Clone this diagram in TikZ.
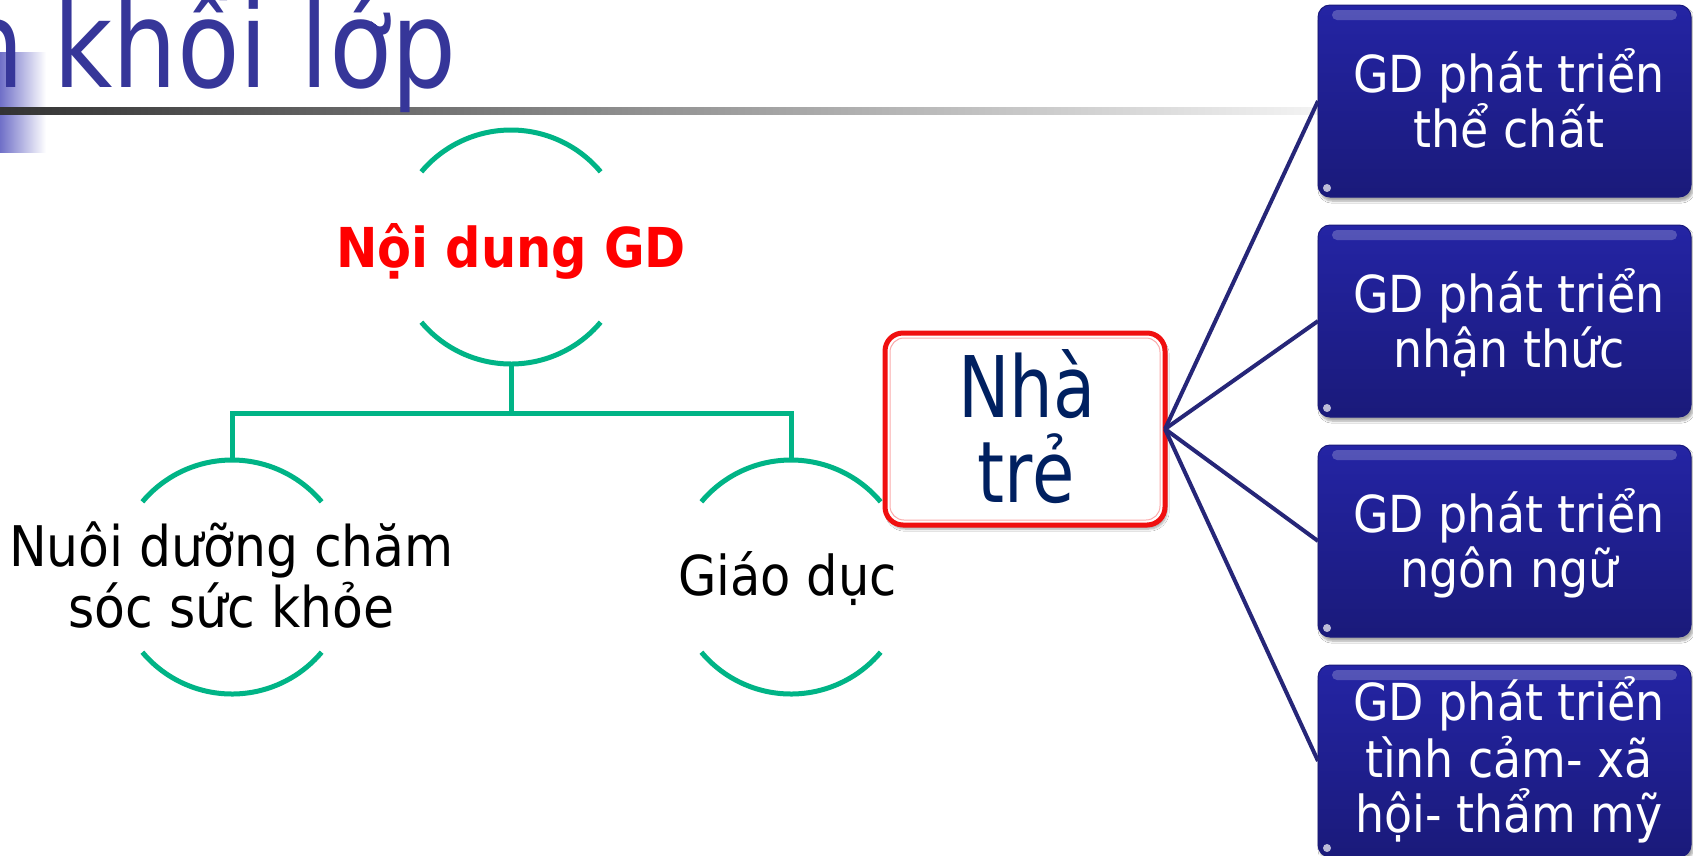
\documentclass[tikz,border=0pt]{standalone}
\usepackage{fontspec}
\usepackage{graphicx}
\setmainfont{DejaVu Sans Condensed}
\usetikzlibrary{shadows.blur}
\definecolor{ggreen}{RGB}{0,180,134}
\definecolor{navyline}{RGB}{38,38,120}
\definecolor{titleblue}{RGB}{54,54,153}
\definecolor{decoblue}{RGB}{112,112,200}
\definecolor{navytxt}{RGB}{0,32,96}
\definecolor{boxred}{RGB}{240,16,16}
\definecolor{btop}{RGB}{36,36,164}
\definecolor{bbot}{RGB}{26,26,122}
\begin{document}
\begin{tikzpicture}[x=1pt,y=1pt,
  ring/.style={circle, minimum size=234pt, inner sep=0pt, outer sep=0pt},
  arcline/.style={draw=ggreen, line width=5pt},
  tree/.style={draw=ggreen, line width=5pt},
  ln/.style={anchor=base, inner sep=0pt},
  ctext/.style={ln, font=\fontsize{56}{56}\selectfont},
  btext/.style={ln, text=white, font=\fontsize{51}{51}\selectfont},
  ntext/.style={ln, text=navytxt, font=\fontsize{85}{85}\selectfont},
  conn/.style={draw=navyline, line width=4pt},
  gbox/.style={minimum width=373pt, minimum height=192pt, inner sep=0pt, outer sep=0pt,
    rounded corners=12pt, top color=btop, bottom color=bbot, draw=bbot, line width=1pt,
    blur shadow={shadow xshift=2pt, shadow yshift=-4pt, shadow blur steps=6, shadow opacity=35}},
  gloss/.style={fill=white, opacity=0.22, rounded corners=5pt}
]
\useasboundingbox (0,0) rectangle (1693,-855);
\fill[white] (0,0) rectangle (1693,-855);

% header decoration
\shade[left color=decoblue, right color=white] (0,-52) rectangle (46,-152);
\shade[left color=black!80, right color=black!4] (0,-107) rectangle (1330,-114);
\node[anchor=base east, inner sep=0pt, text=titleblue, font=\fontsize{121}{121}\selectfont] (title) at (457,-87) {\scalebox{0.94}[1]{h\hspace{-4pt} khối lớp}};

% rings
\node[ring] (cT) at (511,-247) {};
\node[ring] (cL) at (232,-577) {};
\node[ring] (cR) at (791,-577) {};
\foreach \c in {cT,cL,cR}{
  \draw[arcline] (\c.40) arc[start angle=40, end angle=140, radius=117pt];
  \draw[arcline] (\c.220) arc[start angle=220, end angle=320, radius=117pt];
}
\coordinate (j) at (511,-413);
\draw[tree] (cT.south) -- (j);
\draw[tree] (cL.north) |- (j) -| (cR.north);

\node[ln, text=red, font=\bfseries\fontsize{55}{55}\selectfont] (tT) at (511,-267) {Nội dung GD};
\node[ctext] (tL1) at (231.5,-566) {Nuôi dưỡng chăm};
\node[ctext] (tL2) at (231.5,-627) {sóc sức khỏe};
\node[ctext, font=\fontsize{55}{55}\selectfont] (tR) at (787.5,-595) {Giáo dục};

% Nha tre
\node[draw=boxred, line width=5pt, rounded corners=18pt, fill=white,
  minimum width=280pt, minimum height=192pt, inner sep=0pt, outer sep=0pt,
  blur shadow={shadow xshift=2pt, shadow yshift=-4pt, shadow blur steps=6, shadow opacity=35}] (nt) at (1025,-429) {};
\draw[boxred!35, line width=1pt, rounded corners=14pt] ([shift={(5pt,-5pt)}]nt.north west) rectangle ([shift={(-5pt,5pt)}]nt.south east);
\node[ntext] (nt1) at (1027,-417) {\scalebox{0.9}[1]{Nhà}};
\node[ntext] (nt2) at (1026,-502) {\scalebox{0.9}[1]{trẻ}};

% right boxes
\node[gbox] (b1) at (1504.5,-101) {};
\node[gbox] (b2) at (1504.5,-321) {};
\node[gbox] (b3) at (1504.5,-541) {};
\node[gbox] (b4) at (1504.5,-761) {};
\foreach \b in {b1,b2,b3,b4}{
  \fill[gloss] ([xshift=14pt,yshift=-5pt]\b.north west) rectangle ([xshift=-14pt,yshift=-15pt]\b.north east);
  \fill[white, opacity=0.7] ([xshift=9pt,yshift=9pt]\b.south west) circle (4pt);
  \draw[conn] (nt.east) -- (\b.west);
}

\node[btext] (b1a) at (1509,-92) {GD phát triển};
\node[btext] (b1b) at (1509,-147) {thể chất};
\node[btext] (b2a) at (1509,-312) {GD phát triển};
\node[btext] (b2b) at (1509,-367) {nhận thức};
\node[btext] (b3a) at (1509,-532) {GD phát triển};
\node[btext] (b3b) at (1509,-587) {ngôn ngữ};
\node[btext] (b4a) at (1509,-720) {GD phát triển};
\node[btext] (b4b) at (1509,-777) {tình cảm- xã};
\node[btext] (b4c) at (1509,-832) {hội- thẩm mỹ};
\end{tikzpicture}
\end{document}
